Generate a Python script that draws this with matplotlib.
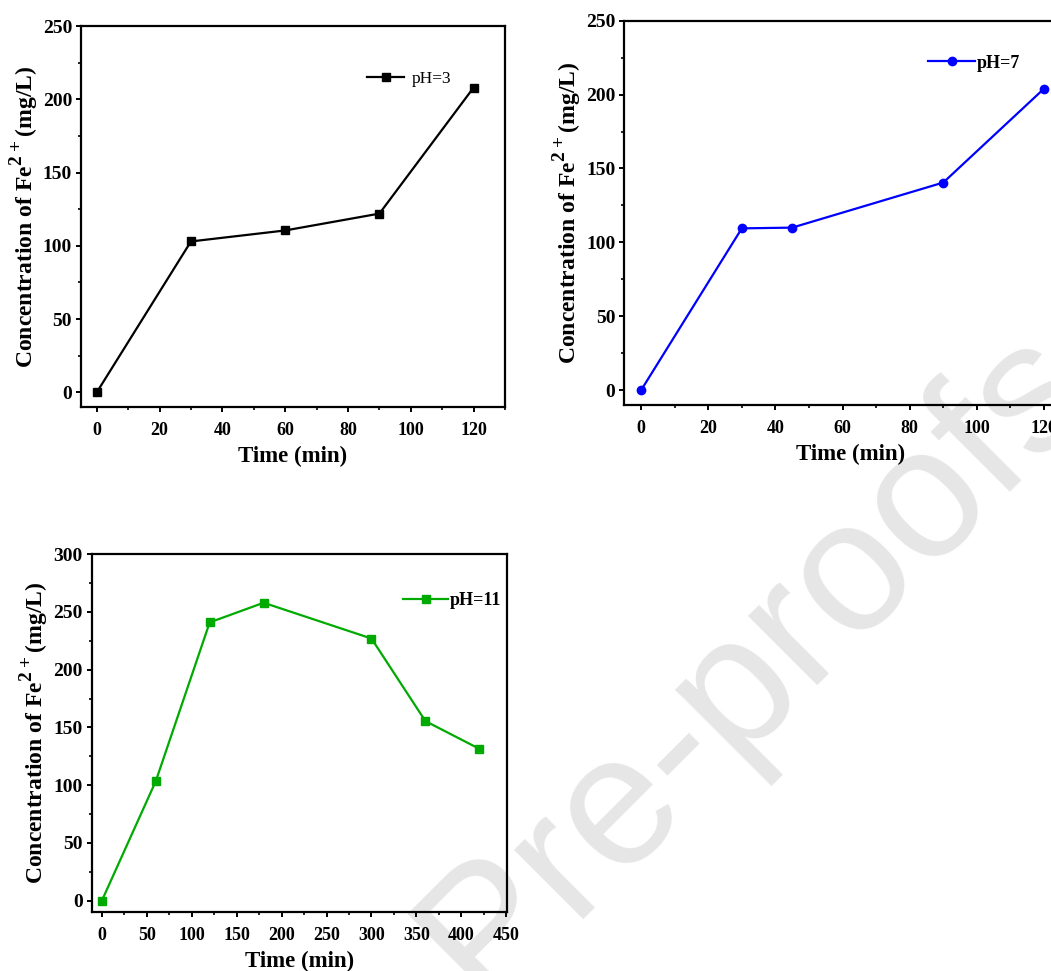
import matplotlib
matplotlib.use("Agg")
import matplotlib.pyplot as plt
import matplotlib._mathtext as mt
from matplotlib.ticker import MultipleLocator

plt.rcParams['font.family'] = ['Liberation Serif', 'DejaVu Serif']
plt.rcParams['font.weight'] = 'bold'
plt.rcParams['mathtext.fontset'] = 'custom'
plt.rcParams['mathtext.rm'] = 'Liberation Serif'
plt.rcParams['mathtext.bf'] = 'Liberation Serif:bold'
mt.SHRINK_FACTOR = 0.82  # the superscript in the original is nearly full size

# data
time_ph3 = [0, 30, 60, 90, 120]
conc_ph3 = [0, 103, 110.5, 122, 208]

time_ph7 = [0, 30, 45, 90, 120]
conc_ph7 = [0, 109.5, 110, 140.5, 204]

time_ph11 = [0, 60, 120, 180, 300, 360, 420]
conc_ph11 = [0, 103.5, 241, 258, 227, 155.5, 131.5]

ylabel = r'Concentration of Fe$^{\mathbf{2+}}\mathrm{(mg/L)}$'


def style_axes(ax, xmajor, ymajor):
    ax.set_facecolor('none')
    for sp in ax.spines.values():
        sp.set_linewidth(1.6)
    ax.xaxis.set_major_locator(MultipleLocator(xmajor))
    ax.xaxis.set_minor_locator(MultipleLocator(xmajor / 2))
    ax.yaxis.set_major_locator(MultipleLocator(ymajor))
    ax.yaxis.set_minor_locator(MultipleLocator(ymajor / 2))
    ax.tick_params(which='major', direction='out', length=3.5, width=1.4,
                   top=False, right=False)
    ax.tick_params(which='minor', direction='out', length=2.2, width=1.2,
                   top=False, right=False)
    ax.tick_params(axis='x', which='major', pad=7, labelsize=13)
    ax.tick_params(axis='y', which='major', pad=3, labelsize=14)
    for lab in ax.get_xticklabels() + ax.get_yticklabels():
        lab.set_fontweight('bold')
    ax.set_xlabel('Time (min)', fontsize=16.5, fontweight='bold', labelpad=5)
    ax.set_ylabel(ylabel, fontsize=17, fontweight='bold', labelpad=1.5)


fig = plt.figure(figsize=(10.51, 9.71), dpi=100)

# pH = 3
ax1 = fig.add_axes([0.0771, 0.5808, 0.4034, 0.3924])
ax1.plot(time_ph3, conc_ph3, color='black', lw=1.6, marker='s', ms=5.3,
         label='pH=3')
ax1.set_xlim(-5, 130)
ax1.set_ylim(-10, 250)
style_axes(ax1, 20, 50)
ax1.legend(loc='upper left', bbox_to_anchor=(0.655, 0.905),
           frameon=False, borderpad=0, handlelength=2.1,
           handletextpad=0.45, prop={'size': 12.5, 'weight': 'normal'})

# pH = 7
ax2 = fig.add_axes([0.594, 0.5829, 0.4313, 0.3958])
ax2.plot(time_ph7, conc_ph7, color='#0000ff', lw=1.6, marker='o', ms=6,
         label='pH=7')
ax2.set_xlim(-5, 130)
ax2.set_ylim(-10, 250)
style_axes(ax2, 20, 50)
ax2.legend(loc='upper left', bbox_to_anchor=(0.651, 0.935),
           frameon=False, borderpad=0, handlelength=2.6,
           handletextpad=0.1, prop={'size': 13, 'weight': 'bold'})

# pH = 11
ax3 = fig.add_axes([0.0875, 0.0605, 0.3951, 0.3687])
ax3.plot(time_ph11, conc_ph11, color='#00aa00', lw=1.6, marker='s', ms=5.4,
         label='pH=11')
ax3.set_xlim(-11, 451)
ax3.set_ylim(-10, 300)
style_axes(ax3, 50, 50)
ax3.legend(loc='upper left', bbox_to_anchor=(0.728, 0.92),
           frameon=False, borderpad=0, handlelength=2.5,
           handletextpad=0.1, prop={'size': 13, 'weight': 'bold'})

# watermark
fig.text(0.7524, 0.2826, 'Pre-proofs', fontsize=134, color='#e6e6e6',
         family='Liberation Sans', fontweight='normal', rotation=45,
         rotation_mode='anchor', ha='center', va='baseline', zorder=-1)

fig.savefig('out.png', dpi=100)
